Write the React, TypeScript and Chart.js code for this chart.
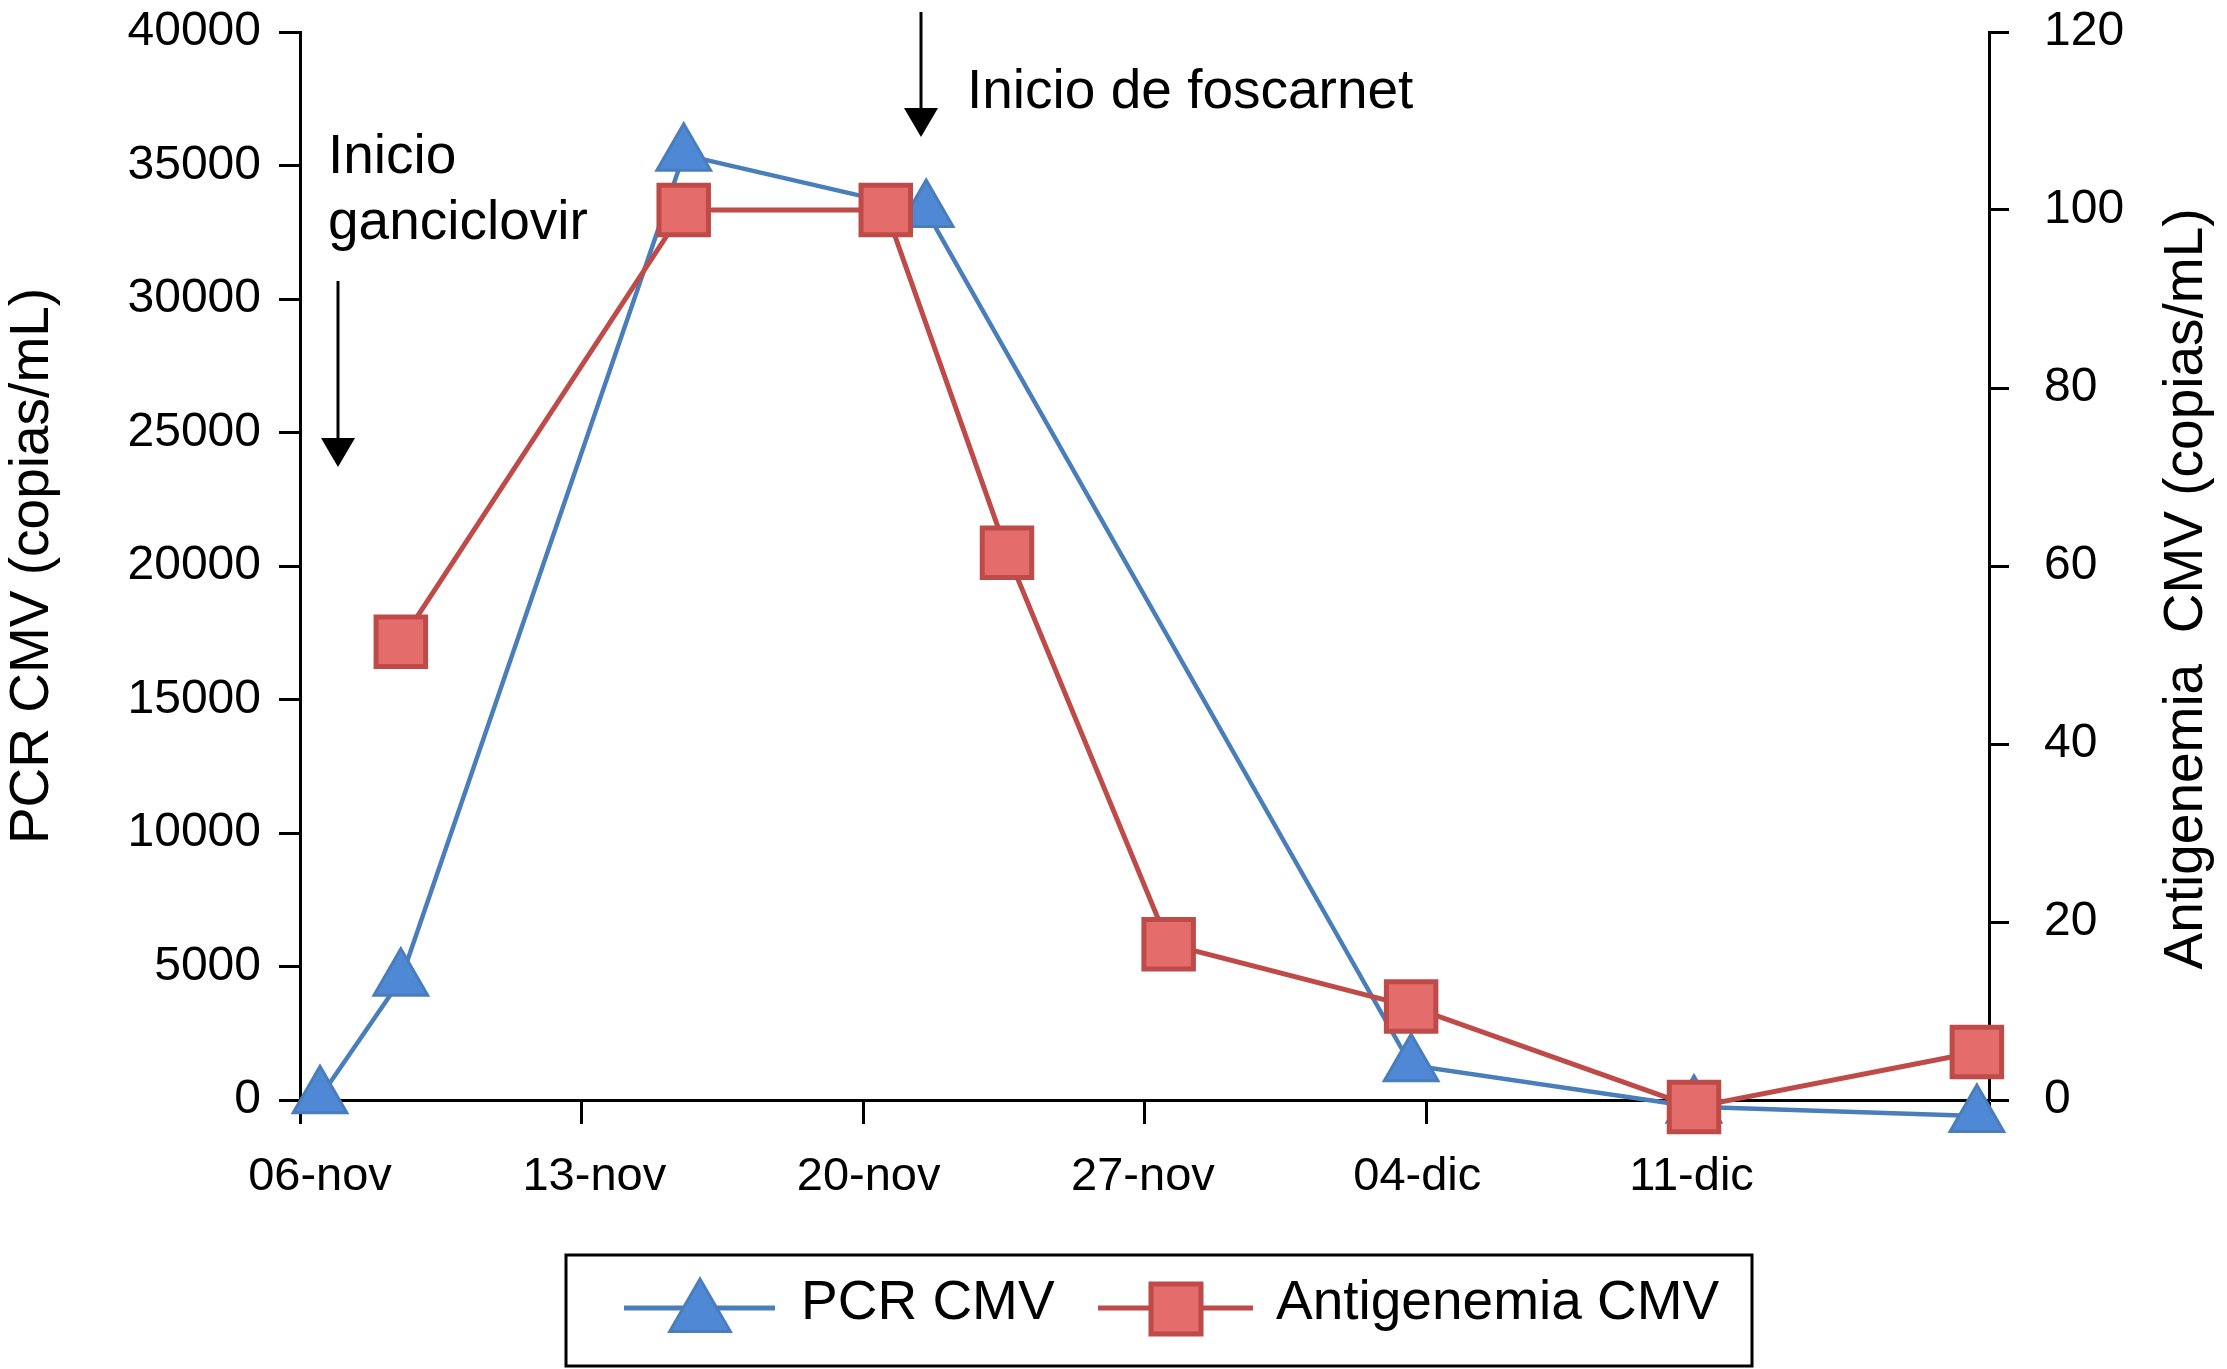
import React, { useEffect, useRef } from "react";
import { Chart, registerables } from "chart.js";

Chart.register(...registerables);

// ---- Data (days counted from 06-nov) ----
const pcrDays = [0, 2, 9, 15, 27, 34, 41];
const pcrValues = [100, 4500, 35400, 33300, 1300, -250, -600];

const antiDays = [2, 9, 14, 17, 21, 27, 34, 41];
const antiValues = [51.5, 100, 100, 61.5, 17.5, 10.5, -0.8, 5.4];

const xLabelDays = [0, 7, 14, 21, 28, 35];
const xLabels = ["06-nov", "13-nov", "20-nov", "27-nov", "04-dic", "11-dic"];

const leftTicks = [0, 5000, 10000, 15000, 20000, 25000, 30000, 35000, 40000];
const rightTicks = [0, 20, 40, 60, 80, 100, 120];

const seriesNames = ["PCR CMV", "Antigenemia CMV"];
const leftTitle = "PCR CMV (copias/mL)";
const rightTitle = "Antigenemia  CMV (copias/mL)";
const noteGanci = ["Inicio", "ganciclovir"];
const noteFosc = "Inicio de foscarnet";

const FONT = "'Liberation Sans', Arial, Helvetica, sans-serif";
const BLUE_LINE = "#4A7EBB";
const BLUE_FILL = "#4F89D6";
const RED_LINE = "#BE4B48";
const RED_FILL = "#E46C6A";

function drawTriangle(ctx: CanvasRenderingContext2D, x: number, y: number, r: number) {
  ctx.beginPath();
  for (let i = 0; i < 3; i++) {
    const a = (i * 2 * Math.PI) / 3;
    const px = x + Math.sin(a) * r;
    const py = y - Math.cos(a) * r;
    if (i === 0) ctx.moveTo(px, py);
    else ctx.lineTo(px, py);
  }
  ctx.closePath();
}

function arrow(ctx: CanvasRenderingContext2D, x: number, y0: number, y1: number) {
  ctx.save();
  ctx.strokeStyle = "#000";
  ctx.fillStyle = "#000";
  ctx.lineWidth = 3;
  ctx.beginPath();
  ctx.moveTo(x, y0);
  ctx.lineTo(x, y1 - 26);
  ctx.stroke();
  ctx.beginPath();
  ctx.moveTo(x - 17, y1 - 29);
  ctx.lineTo(x + 17, y1 - 29);
  ctx.lineTo(x, y1);
  ctx.closePath();
  ctx.fill();
  ctx.restore();
}

const decorPlugin = {
  id: "decor",
  afterDraw(chart: any) {
    const ctx: CanvasRenderingContext2D = chart.ctx;
    const area = chart.chartArea;
    ctx.save();
    ctx.fillStyle = "#000";
    ctx.font = `55px ${FONT}`;
    ctx.textBaseline = "alphabetic";

    // axis titles (both read bottom-to-top)
    const cy = (area.top + area.bottom) / 2;
    ctx.save();
    ctx.translate(48, cy);
    ctx.rotate(-Math.PI / 2);
    ctx.textAlign = "center";
    ctx.fillText(leftTitle, 0, 0);
    ctx.restore();
    ctx.save();
    ctx.translate(2202, cy + 23);
    ctx.rotate(-Math.PI / 2);
    ctx.textAlign = "center";
    ctx.fillText(rightTitle, 0, 0);
    ctx.restore();

    // annotations
    ctx.textAlign = "left";
    ctx.fillText(noteGanci[0], 328, 173);
    ctx.fillText(noteGanci[1], 328, 239);
    arrow(ctx, 338, 281, 467);
    ctx.fillText(noteFosc, 967, 108);
    arrow(ctx, 921, 12, 137);

    // legend
    ctx.strokeStyle = "#000";
    ctx.lineWidth = 3;
    ctx.strokeRect(566, 1255, 1186, 111);
    const ly = 1308;
    // PCR
    ctx.strokeStyle = BLUE_LINE;
    ctx.lineWidth = 5;
    ctx.beginPath();
    ctx.moveTo(624, ly);
    ctx.lineTo(775, ly);
    ctx.stroke();
    drawTriangle(ctx, 700, ly + 6, 35);
    ctx.fillStyle = BLUE_FILL;
    ctx.fill();
    ctx.lineWidth = 3;
    ctx.stroke();
    ctx.fillStyle = "#000";
    ctx.fillText(seriesNames[0], 801, 1319);
    // Antigenemia
    ctx.strokeStyle = RED_LINE;
    ctx.lineWidth = 5;
    ctx.beginPath();
    ctx.moveTo(1098, ly);
    ctx.lineTo(1253, ly);
    ctx.stroke();
    ctx.fillStyle = RED_FILL;
    ctx.fillRect(1151, ly - 24, 50, 50);
    ctx.strokeRect(1151, ly - 24, 50, 50);
    ctx.fillStyle = "#000";
    ctx.fillText(seriesNames[1], 1276, 1319);
    ctx.restore();
  },
};

export default function App() {
  const ref = useRef<HTMLCanvasElement | null>(null);

  useEffect(() => {
    if (!ref.current) return;
    Chart.defaults.font.family = FONT;
    Chart.defaults.color = "#000";
    const XMIN = -0.495;
    const XMAX = 41.3;
    const chart = new Chart(ref.current, {
      type: "line",
      data: {
        datasets: [
          {
            label: seriesNames[0],
            data: pcrDays.map((d, i) => ({ x: d, y: pcrValues[i] })),
            yAxisID: "y",
            xAxisID: "x",
            borderColor: BLUE_LINE,
            borderWidth: 4.5,
            pointStyle: "triangle",
            pointRadius: 31,
            pointBackgroundColor: BLUE_FILL,
            pointBorderColor: BLUE_LINE,
            pointBorderWidth: 3,
            tension: 0,
            clip: false as any,
            order: 1,
          },
          {
            label: seriesNames[1],
            data: antiDays.map((d, i) => ({ x: d, y: antiValues[i] })),
            yAxisID: "y1",
            xAxisID: "x",
            borderColor: RED_LINE,
            borderWidth: 5,
            pointStyle: "rect",
            pointRadius: 35,
            pointBackgroundColor: RED_FILL,
            pointBorderColor: RED_LINE,
            pointBorderWidth: 5,
            tension: 0,
            clip: false as any,
            order: 0,
          },
        ],
      },
      options: {
        animation: false,
        responsive: true,
        maintainAspectRatio: false,
        devicePixelRatio: 1,
        events: [],
        layout: { autoPadding: false, padding: { top: 32, left: 0, right: 0, bottom: 0 } },
        plugins: { legend: { display: false }, tooltip: { enabled: false } },
        scales: {
          x: {
            type: "linear",
            position: "bottom",
            weight: 0,
            min: XMIN,
            max: XMAX,
            afterBuildTicks: (s: any) => {
              const t = [];
              for (let k = 0; k <= 6; k++) t.push({ value: XMIN + (k * (XMAX - XMIN)) / 6 });
              s.ticks = t;
            },
            afterFit: (s: any) => {
              s.height = 24;
              s.paddingLeft = 0;
              s.paddingRight = 0;
            },
            ticks: { display: false },
            grid: {
              drawOnChartArea: false,
              drawTicks: true,
              tickLength: 24,
              tickWidth: 3,
              tickColor: "#000",
            },
            border: { display: true, color: "#000", width: 3 },
          },
          xl: {
            type: "linear",
            position: "bottom",
            weight: 1,
            min: -0.51,
            max: 42.59,
            afterBuildTicks: (s: any) => {
              s.ticks = xLabelDays.map((v) => ({ value: v }));
            },
            afterFit: (s: any) => {
              s.height = 245;
              s.paddingLeft = 0;
              s.paddingRight = 0;
            },
            ticks: {
              padding: 25,
              font: { size: 47 },
              color: "#000",
              maxRotation: 0,
              autoSkip: false,
              callback: (v: any) => {
                const i = xLabelDays.indexOf(Number(v));
                return i >= 0 ? xLabels[i] : "";
              },
            },
            grid: { display: false, drawTicks: false },
            border: { display: false },
          },
          y: {
            type: "linear",
            position: "left",
            min: 0,
            max: 40000,
            afterBuildTicks: (s: any) => {
              s.ticks = leftTicks.map((v) => ({ value: v }));
            },
            afterFit: (s: any) => {
              s.width = 300;
              s.paddingTop = 0;
              s.paddingBottom = 0;
            },
            ticks: {
              padding: 18,
              font: { size: 48 },
              color: "#000",
              callback: (v: any) => String(v),
            },
            grid: {
              drawOnChartArea: false,
              drawTicks: true,
              tickLength: 21,
              tickWidth: 3,
              tickColor: "#000",
            },
            border: { display: true, color: "#000", width: 3 },
          },
          y1: {
            type: "linear",
            position: "right",
            min: 0,
            max: 120,
            afterBuildTicks: (s: any) => {
              s.ticks = rightTicks.map((v) => ({ value: v }));
            },
            afterFit: (s: any) => {
              s.width = 238;
              s.paddingTop = 0;
              s.paddingBottom = 0;
            },
            ticks: {
              padding: 35,
              font: { size: 48 },
              color: "#000",
              callback: (v: any) => String(v),
            },
            grid: {
              drawOnChartArea: false,
              drawTicks: true,
              tickLength: 20,
              tickWidth: 3,
              tickColor: "#000",
            },
            border: { display: true, color: "#000", width: 3 },
          },
        },
      } as any,
      plugins: [decorPlugin],
    });
    return () => chart.destroy();
  }, []);

  return (
    <div style={{ position: "absolute", left: 0, top: 0, width: 2227, height: 1369, background: "#fff" }}>
      <canvas ref={ref} />
    </div>
  );
}
